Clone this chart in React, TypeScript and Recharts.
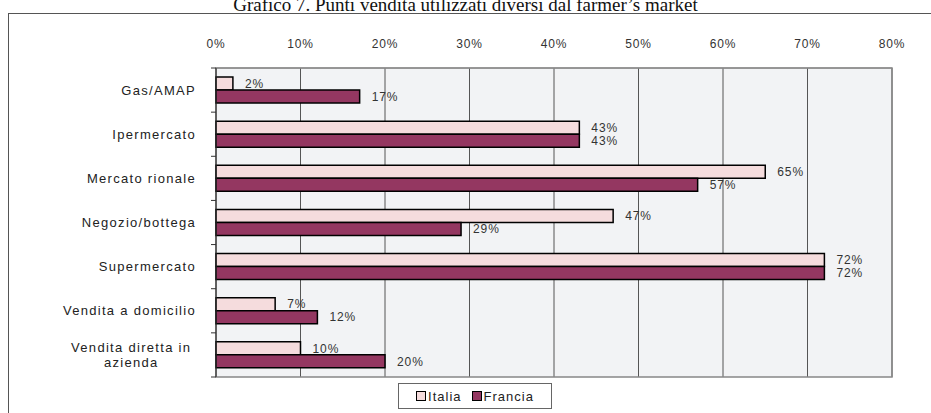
import React from "react";
import {
  BarChart,
  Bar,
  XAxis,
  YAxis,
  CartesianGrid,
  LabelList,
  ReferenceArea,
} from "recharts";

const categories = [
  "Gas/AMAP",
  "Ipermercato",
  "Mercato rionale",
  "Negozio/bottega",
  "Supermercato",
  "Vendita a domicilio",
  "Vendita diretta in\nazienda",
];
const italia = [2, 43, 65, 47, 72, 7, 10];
const francia = [17, 43, 57, 29, 72, 12, 20];
const xTicks = [0, 10, 20, 30, 40, 50, 60, 70, 80];
const seriesNames = ["Italia", "Francia"];
const seriesColors = ["#F5DCDD", "#943761"];
const title = "Grafico 7. Punti vendita utilizzati diversi dal farmer’s market";

const data = categories.map((c, i) => ({
  name: c,
  Italia: italia[i],
  Francia: francia[i],
}));

const W = 931;
const H = 413;
const PLOT_LEFT = 216;
const PLOT_RIGHT = 892;
const PLOT_TOP = 68;
const PLOT_BOTTOM = 377;
const BAND = (PLOT_BOTTOM - PLOT_TOP) / categories.length;
const FONT = "'Liberation Sans', Arial, sans-serif";

const YTick = (props: any) => {
  const { y, payload, index } = props;
  const lines = String(payload.value).split("\n");
  const labelX = PLOT_LEFT - 20;
  const axisX = PLOT_LEFT;
  const textProps = {
    fontFamily: FONT,
    fontSize: 13,
    letterSpacing: 1.3,
    fill: "#222",
  };
  let content;
  if (lines.length === 1) {
    content = (
      <text x={labelX} y={y} dy={4.5} textAnchor="end" {...textProps}>
        {lines[0]}
      </text>
    );
  } else {
    const longest = Math.max(...lines.map((l) => l.length));
    const cx = labelX - (longest * 7.2) / 2;
    content = (
      <text textAnchor="middle" {...textProps}>
        {lines.map((l, i) => (
          <tspan key={i} x={cx} y={y + 4.5 + (i - (lines.length - 1) / 2) * 15}>
            {l}
          </tspan>
        ))}
      </text>
    );
  }
  return (
    <g>
      <line x1={axisX - 5} x2={axisX} y1={y - BAND / 2} y2={y - BAND / 2} stroke="#333" />
      {index === categories.length - 1 && (
        <line x1={axisX - 5} x2={axisX} y1={y + BAND / 2} y2={y + BAND / 2} stroke="#333" />
      )}
      {content}
    </g>
  );
};

const labelStyle = { fontFamily: FONT, fontSize: 12, letterSpacing: 0.9, fill: "#333" };

export default function App() {
  return (
    <div style={{ position: "absolute", left: 0, top: 0, width: W, height: H, background: "#fff", overflow: "hidden" }}>
      <div
        style={{
          position: "absolute",
          left: 0,
          top: -5,
          width: W,
          textAlign: "center",
          fontFamily: "'Liberation Serif', 'Times New Roman', serif",
          fontSize: 19,
          color: "#111",
          lineHeight: "20px",
        }}
      >
        {title}
      </div>
      <div
        style={{
          position: "absolute",
          left: 8,
          top: 13,
          width: W,
          height: H,
          borderLeft: "1.5px solid #555",
          borderTop: "1.5px solid #555",
        }}
      />
      <div style={{ position: "absolute", left: 0, top: 0 }}>
        <BarChart
          width={W}
          height={H}
          data={data}
          layout="vertical"
          margin={{ top: PLOT_TOP - 20, right: W - PLOT_RIGHT, bottom: H - PLOT_BOTTOM, left: 0 }}
          barSize={13}
          barGap={0}
        >
          <CartesianGrid horizontal={false} vertical stroke="#555" fill="#F2F3F5" />
          <ReferenceArea x1={0} x2={80} fill="none" stroke="#888" strokeWidth={1.5} />
          <XAxis
            type="number"
            orientation="top"
            domain={[0, 80]}
            ticks={xTicks}
            height={20}
            tickFormatter={(v: number) => `${v}%`}
            axisLine={{ stroke: "#888" }}
            tickLine={false}
            tickMargin={14}
            tick={{ fontFamily: FONT, fontSize: 12, letterSpacing: 0.9, fill: "#333" }}
          />
          <YAxis
            type="category"
            dataKey="name"
            width={PLOT_LEFT}
            axisLine={{ stroke: "#333" }}
            tickLine={false}
            tick={<YTick />}
            interval={0}
          />
          <Bar dataKey={seriesNames[0]} fill={seriesColors[0]} stroke="#000" strokeWidth={1.5} isAnimationActive={false}>
            <LabelList dataKey={seriesNames[0]} position="right" offset={12} formatter={(v: any) => `${v}%`} style={labelStyle} />
          </Bar>
          <Bar dataKey={seriesNames[1]} fill={seriesColors[1]} stroke="#000" strokeWidth={1.5} isAnimationActive={false}>
            <LabelList dataKey={seriesNames[1]} position="right" offset={12} formatter={(v: any) => `${v}%`} style={labelStyle} />
          </Bar>
        </BarChart>
      </div>
      <div
        style={{
          position: "absolute",
          left: 398,
          top: 383,
          width: 154,
          height: 26,
          border: "1.5px solid #666",
          background: "#fff",
          display: "flex",
          alignItems: "center",
          justifyContent: "center",
          boxSizing: "border-box",
          fontFamily: FONT,
          fontSize: 13,
          letterSpacing: 1,
          color: "#222",
        }}
      >
        {seriesNames.map((n, i) => (
          <span key={n} style={{ display: "flex", alignItems: "center", marginRight: i === 0 ? 10 : 0 }}>
            <span
              style={{
                display: "inline-block",
                width: 8,
                height: 8,
                background: seriesColors[i],
                border: "1.5px solid #000",
                marginRight: 2,
              }}
            />
            {n}
          </span>
        ))}
      </div>
    </div>
  );
}
